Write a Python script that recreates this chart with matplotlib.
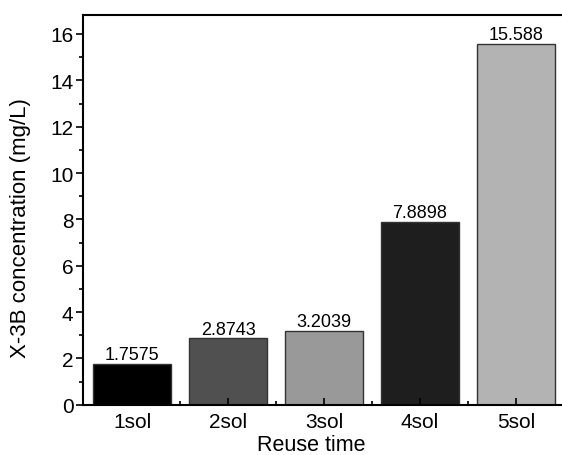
import numpy as np
import matplotlib.pyplot as plt
from matplotlib.ticker import MultipleLocator

plt.rcParams['font.family'] = ['Liberation Sans', 'DejaVu Sans']

# concentracion tras cada reuso
categorias = ['1sol', '2sol', '3sol', '4sol', '5sol']
valores = [1.7575, 2.8743, 3.2039, 7.8898, 15.588]
etiquetas = ['1.7575', '2.8743', '3.2039', '7.8898', '15.588']
colores = ['#000000', '#505050', '#999999', '#1e1e1e', '#b3b3b3']

x = np.arange(1, len(categorias) + 1)

fig = plt.figure(figsize=(5.62, 4.56), dpi=100)
ax = fig.add_axes([0.148, 0.11, 0.852, 0.855])

ax.bar(x, valores, width=0.81, color=colores, edgecolor='#333333', linewidth=1.0)
for xi, v, t in zip(x, valores, etiquetas):
    ax.text(xi, v + 0.03, t, ha='center', va='bottom', fontsize=13)

ax.set_xlim(0.49, 5.48)
ax.set_ylim(0, 16.82)
ax.set_xticks(x)
ax.set_xticklabels(categorias)
ax.set_xticks(x[:-1] + 0.5, minor=True)
ax.yaxis.set_major_locator(MultipleLocator(2))
ax.yaxis.set_minor_locator(MultipleLocator(1))

ax.tick_params(axis='x', which='major', direction='in', length=5, width=1.2, labelsize=15, pad=5)
ax.tick_params(axis='x', which='minor', direction='in', length=3, width=1.2)
ax.tick_params(axis='y', which='major', direction='out', length=5, width=1.2, labelsize=15, pad=2)
ax.tick_params(axis='y', which='minor', direction='out', length=3, width=1.2)

for s in ax.spines.values():
    s.set_linewidth(1.5)
ax.spines['right'].set_visible(False)

ax.set_xlabel('Reuse time', fontsize=15.5)
ax.set_ylabel('X-3B concentration (mg/L)', fontsize=16)
ax.xaxis.set_label_coords(0.476, -0.076)
ax.yaxis.set_label_coords(-0.108, 0.455)

fig.savefig('out.png', dpi=100)
